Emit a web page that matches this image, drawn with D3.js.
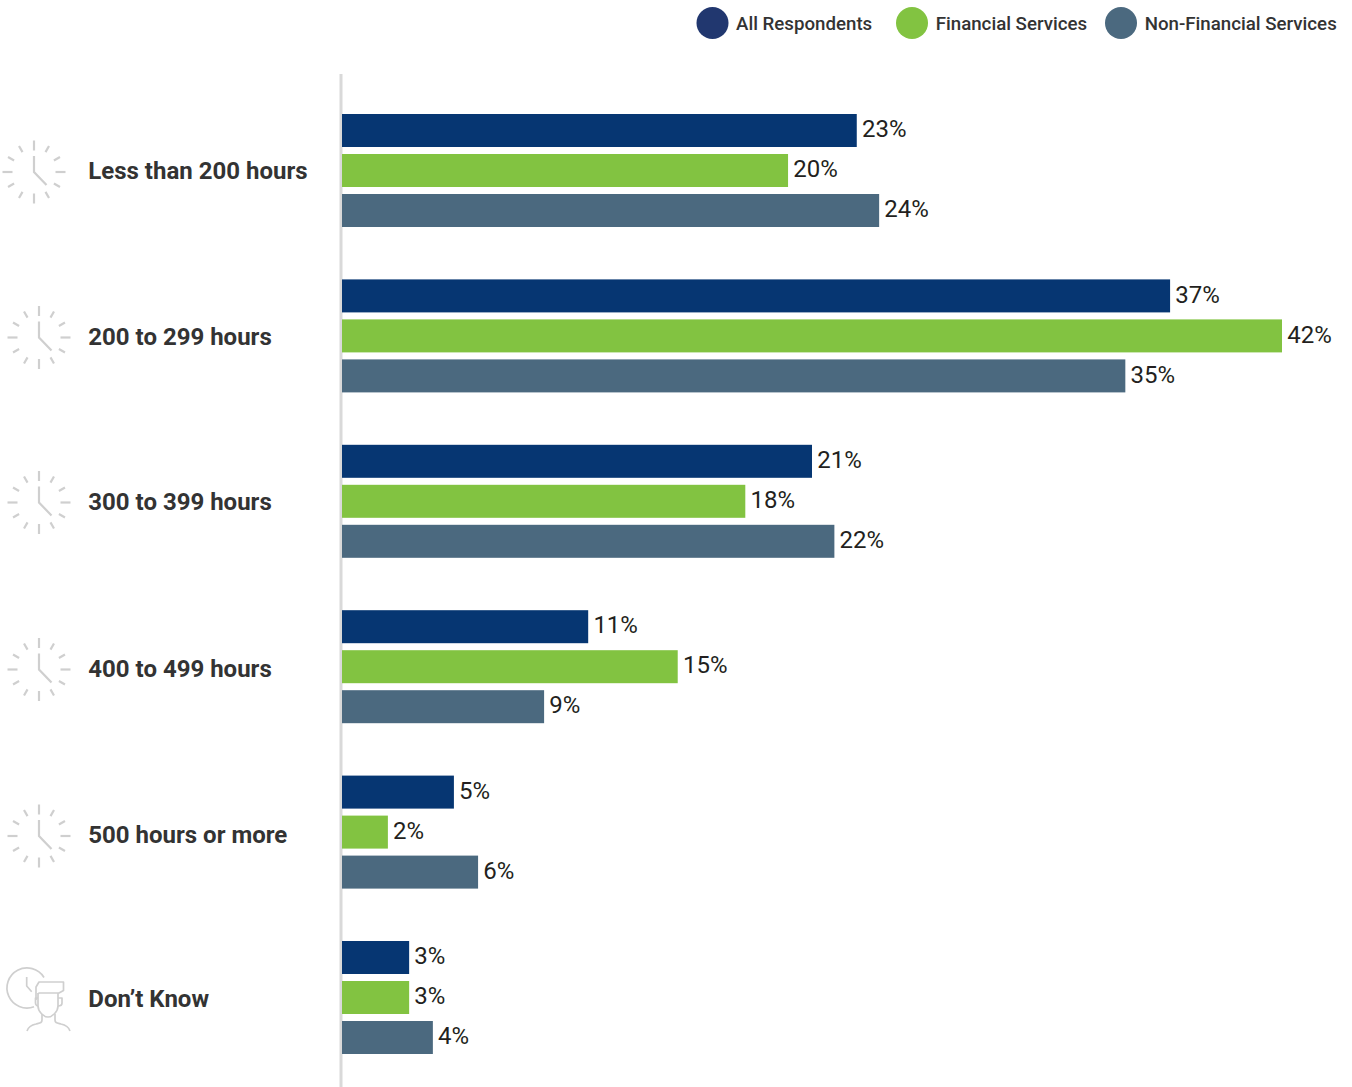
<!DOCTYPE html>
<html><head><meta charset="utf-8">
<script src="https://cdn.jsdelivr.net/npm/d3@7"></script>
<style>html,body{margin:0;padding:0;background:#fff}svg{display:block}text{font-family:Roboto,sans-serif}</style>
</head><body><div id="c"></div>
<script>
const categories=["Less than 200 hours","200 to 299 hours","300 to 399 hours","400 to 499 hours","500 hours or more","Don’t Know"];
const seriesNames=["All Respondents","Financial Services","Non-Financial Services"];
const allRespondents=[23,37,21,11,5,3];
const financialServices=[19.93,42,18.02,15,2.05,3];
const nonFinancialServices=[24,35,22,9.03,6.08,4.06];
const seriesValues=[allRespondents,financialServices,nonFinancialServices];
const barColors=["#063672","#82c341","#4b697f"];
const legendColors=["#21376f","#82c341","#4b697f"];
const labelNudge=[-0.5,0.5,0.5,1.5,2.5,0.5];
const W=1352,H=1087;
const svg=d3.select("#c").append("svg").attr("width",W).attr("height",H);
const x=d3.scaleLinear().domain([0,42]).range([342,1282]);
const y=d3.scaleBand().domain(categories).range([114,114+165.4*6]);
const sy=d3.scalePoint().domain(seriesNames).range([0,80]);
const fmt=d3.format(".0f");
const barH=33;
svg.append("line").attr("x1",341).attr("x2",341).attr("y1",74).attr("y2",H).attr("stroke","#d9d9d9").attr("stroke-width",3);
seriesNames.forEach((s,si)=>{
  const g=svg.append("g");
  g.selectAll("rect").data(seriesValues[si]).join("rect")
    .attr("x",x(0)).attr("y",(d,i)=>y(categories[i])+sy(s)).attr("width",d=>x(d)-x(0)).attr("height",barH).attr("fill",barColors[si]);
  g.selectAll("text").data(seriesValues[si]).join("text")
    .attr("x",d=>x(d)+5.2).attr("y",(d,i)=>y(categories[i])+sy(s)+23.2).attr("font-size",24).attr("fill","#231f20").text(d=>fmt(d)+"%");
});
svg.append("g").selectAll("text").data(categories).join("text")
  .attr("x",88.3).attr("y",(d,i)=>y(d)+65+labelNudge[i]).attr("font-size",24).attr("font-weight",700).attr("fill","#333").text(d=>d);
const legendX=[712.5,912,1121],legendTextX=[736,935.7,1144.7];
seriesNames.forEach((s,i)=>{
  svg.append("ellipse").attr("cx",legendX[i]).attr("cy",23).attr("rx",16).attr("ry",16).attr("fill",legendColors[i]);
  svg.append("text").attr("x",legendTextX[i]).attr("y",30).attr("font-size",18.7).attr("font-weight",500).attr("fill","#333").text(s);
});
const iconC="#cfcfcf";
const clockCenters=[[34,172],[39,337.5],[39,502.5],[39,669.5],[39,836]];
clockCenters.forEach(([cx,cy])=>{
  const g=svg.append("g").attr("transform",`translate(${cx},${cy})`).attr("stroke",iconC).attr("stroke-width",2.2).attr("fill","none");
  d3.range(12).forEach(h=>{
    const a=h*Math.PI/6;
    const r0=(h%3===0)?21.5:23,r1=(h%3===0)?31.5:30;
    g.append("line").attr("x1",Math.sin(a)*r0).attr("y1",-Math.cos(a)*r0).attr("x2",Math.sin(a)*r1).attr("y2",-Math.cos(a)*r1);
  });
  g.append("path").attr("d","M0,-16V0L12.5,13");
});
const p=svg.append("g").attr("stroke",iconC).attr("stroke-width",1.7).attr("fill","none").attr("stroke-linejoin","round");
p.append("path").attr("d","M44,977.5A20,20 0 1 0 34,1006.7");
p.append("path").attr("d","M26.7,977V986L31.7,991.7");
p.append("path").attr("d","M36,1000V987L39,982H63.5V990.5L59,993H39L38,994");
p.append("path").attr("d","M38,993V1006C38,1012 44,1017 48,1017C52,1017 58,1012 58,1006V993");
p.append("path").attr("d","M38,998H35.5V1003C35.5,1005 37,1006 38,1006M58,998H62V1003C62,1005 60,1006 58,1006");
p.append("path").attr("d","M42,1014V1020C42,1023 40,1023 36,1024C31,1025 28,1028 27,1031");
p.append("path").attr("d","M55,1014V1020C55,1023 57,1023 61,1024C66,1025 69,1028 70,1031");
</script></body></html>
